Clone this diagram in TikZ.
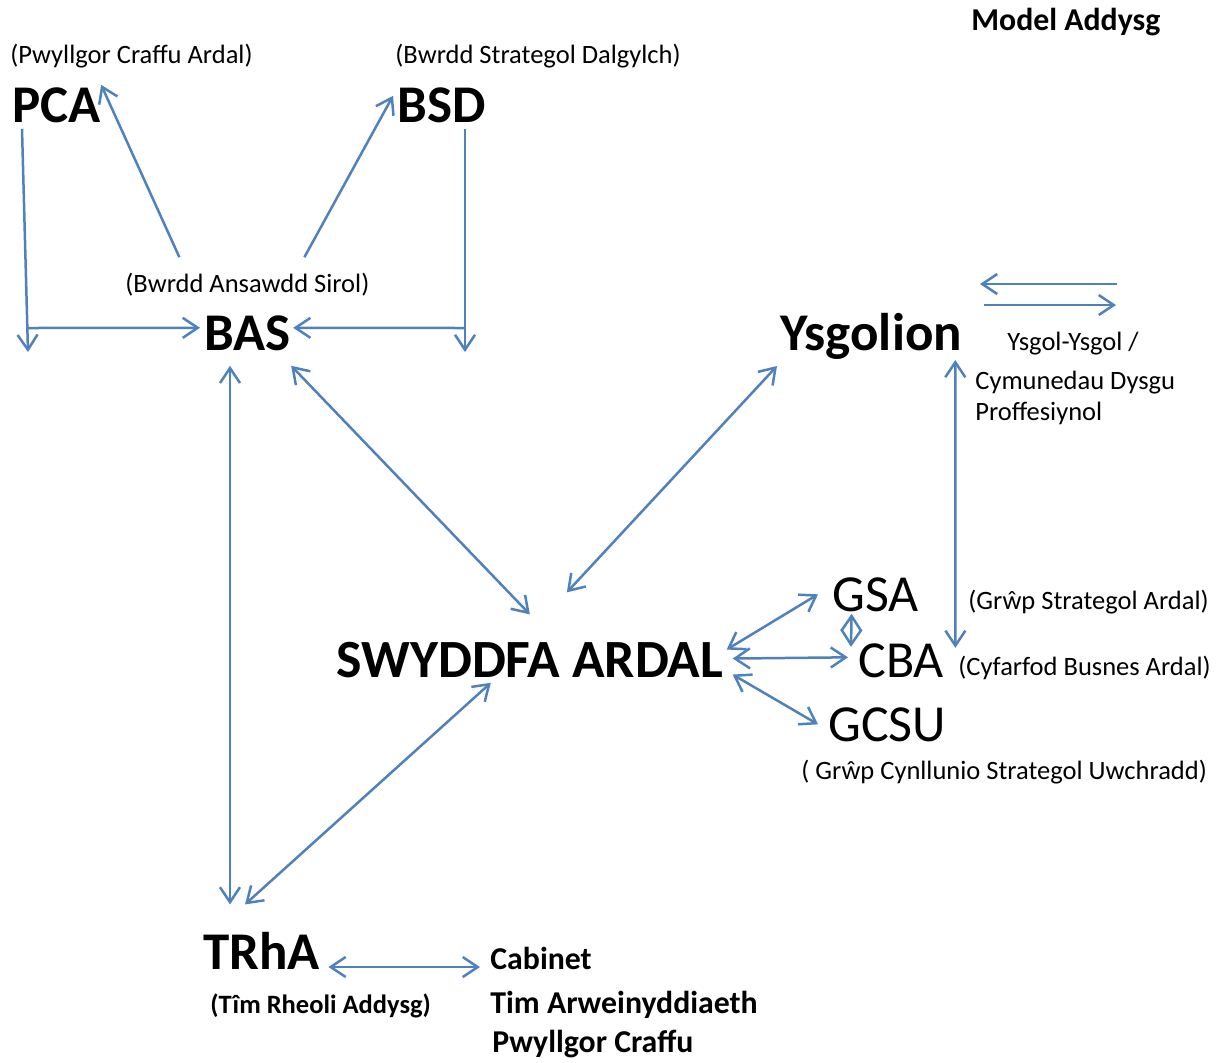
\documentclass[tikz,border=0pt]{standalone}
\usepackage{fontspec}
\setmainfont{Carlito}
\usetikzlibrary{arrows.meta}
\definecolor{linkblue}{RGB}{79,129,189}

\begin{document}
\begin{tikzpicture}
[x=0.5pt,y=-0.5pt,>={Straight Barb[length=7.5pt,width=10pt]},
 link/.style={linkblue,line width=1.25pt},
 namebig/.style={inner sep=0,anchor=base west,font=\fontsize{26.5}{30}\selectfont\bfseries},
 namereg/.style={inner sep=0,anchor=base west,font=\fontsize{26}{30}\selectfont},
 subtxt/.style={inner sep=0,anchor=base west,font=\fontsize{13.25}{16}\selectfont},
 subbold/.style={inner sep=0,anchor=base west,font=\fontsize{13.25}{16}\selectfont\bfseries},
 sidetxt/.style={inner sep=0,anchor=base west,font=\fontsize{15.9}{19}\selectfont\bfseries}]

	\useasboundingbox (0,0) rectangle (1221,1062);
	%\draw[gray,step=50] (0,0) grid (1221,1062);

	\node[sidetxt] (title) at (971,30) {Model Addysg};

	\node[subtxt] (pcalbl) at (10,63) {(Pwyllgor Craffu Ardal)};
	\node[namebig] (pca) at (12,122) {PCA};
	\node[subtxt] (bsdlbl) at (395,63) {(Bwrdd Strategol Dalgylch)};
	\node[namebig] (bsd) at (397,122) {BSD};
	\node[subtxt] (baslbl) at (125,292) {(Bwrdd Ansawdd Sirol)};
	\node[namebig] (bas) at (204,350) {BAS};

	\node[namebig] (ysg) at (780,350) {Ysgolion};
	\node[subtxt] (ysglbla) at (1007,350) {Ysgol-Ysgol /};
	\node[subtxt] (ysglblb) at (975,389) {Cymunedau Dysgu};
	\node[subtxt] (ysglblc) at (975,420) {Proffesiynol};

	\node[namebig,font=\fontsize{26.9}{30}\selectfont\bfseries] (swy) at (336,677) {SWYDDFA ARDAL};
	\node[namereg] (gsa) at (832,611) {GSA};
	\node[subtxt] (gsalbl) at (968,609) {(Grŵp Strategol Ardal)};
	\node[namereg] (cba) at (858,677) {CBA};
	\node[subtxt] (cbalbl) at (958,675) {(Cyfarfod Busnes Ardal)};
	\node[namereg] (gcsu) at (828,741) {GCSU};
	\node[subtxt] (gcsulbl) at (801,779) {( Grŵp Cynllunio Strategol Uwchradd)};

	\node[namebig] (trha) at (203,969) {TRhA};
	\node[subbold] (trhalbl) at (210,1013) {(Tîm Rheoli Addysg)};
	\node[sidetxt] (cab) at (490,969) {Cabinet};
	\node[sidetxt] (tim) at (490,1013) {Tim Arweinyddiaeth};
	\node[sidetxt] (pwy) at (492,1052) {Pwyllgor Craffu};

	\coordinate (pcafoot) at (28,352);
	\coordinate (pcajoin) at (28,328);
	\coordinate (bsdfoot) at (465,352);
	\coordinate (bsdjoin) at (465,328);
	\coordinate (swapa) at (1117,284);
	\coordinate (swapb) at (980,284);
	\coordinate (swapc) at (984,305);
	\coordinate (swapd) at (1116,305);

	\draw[link,->] ([xshift=5pt,yshift=-3pt]pca.south west) -- (pcafoot);
	\draw[link,->] (pcajoin) -- ([xshift=-2pt,yshift=2.5pt]bas.west);
	\draw[link,->] ([xshift=34pt,yshift=-3pt]bsd.south west) -- (bsdfoot);
	\draw[link,->] (bsdjoin) -- ([xshift=1pt,yshift=2.5pt]bas.east);
	\draw[link,->] ([xshift=-34pt,yshift=7.5pt]baslbl.north) -- ([yshift=1pt]pca.north east);
	\draw[link,->] ([xshift=28.5pt,yshift=7.5pt]baslbl.north) -- ([xshift=-2pt,yshift=-4.5pt]bsd.north west);

	\draw[link,<->] ([xshift=13pt,yshift=-7.5pt]bas.south west) -- ([xshift=13.5pt,yshift=13.5pt]trha.north west);
	\draw[link,<->] ([yshift=-7.5pt]bas.south east) -- ([yshift=13.5pt]swy.north);
	\draw[link,<->] ([xshift=-1.5pt,yshift=-8pt]ysg.base west) -- ([xshift=18.5pt,yshift=24.5pt]swy.north);
	\draw[link,<->] ([xshift=-3.5pt,yshift=-5pt]ysg.base east) -- ([xshift=5.5pt,yshift=-2.5pt]cba.north east);

	\draw[link,<->] ([xshift=1.5pt,yshift=5pt]swy.east) -- ([xshift=-7pt]gsa.west);
	\draw[link,<->] ([xshift=-12pt,yshift=-1pt]gsa.south) -- ([xshift=-3.5pt,yshift=-2pt]cba.north west);
	\draw[link,<->] ([xshift=4.5pt,yshift=0.5pt]swy.east) -- ([xshift=-5pt,yshift=1.5pt]cba.west);
	\draw[link,<->] ([xshift=4.5pt,yshift=-7.5pt]swy.east) -- ([xshift=-5pt]gcsu.west);

	\draw[link,<->] ([xshift=21pt,yshift=13.5pt]trha.north west) -- ([xshift=-19.5pt,yshift=-2.5pt]swy.south);
	\draw[link,<->] ([xshift=4pt,yshift=1pt]trha.base east) -- ([xshift=-5pt,yshift=1pt]cab.base west);

	\draw[link,->] (swapa) -- (swapb);
	\draw[link,->] (swapc) -- (swapd);
\end{tikzpicture}
\end{document}
